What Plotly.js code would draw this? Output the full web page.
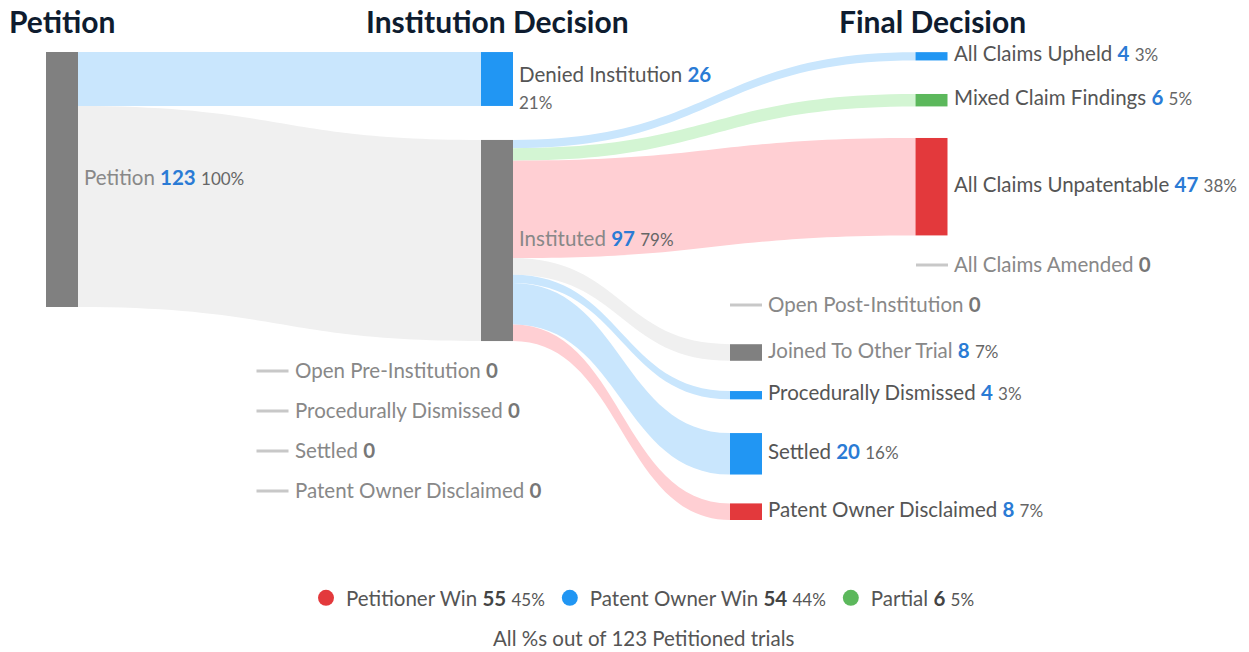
<!DOCTYPE html>
<html><head><meta charset="utf-8">
<script src="https://cdn.plot.ly/plotly-3.0.1.min.js"></script>
<style>html,body{margin:0;padding:0;background:#fff}#chart{width:1249px;height:652px}</style>
</head><body><div id="chart"></div>
<script>
// ---------------- data ----------------
const nodeNames = ['Petition', 'Denied Institution', 'Instituted', 'All Claims Upheld',
  'Mixed Claim Findings', 'All Claims Unpatentable', 'Joined To Other Trial',
  'Procedurally Dismissed', 'Settled', 'Patent Owner Disclaimed'];
const nodeOutcome = ['none', 'owner', 'none', 'owner', 'partial', 'petitioner', 'none', 'owner', 'owner', 'petitioner'];
const linkSource = [0, 0, 2, 2, 2, 2, 2, 2, 2];
const linkTarget = [1, 2, 3, 4, 5, 6, 7, 8, 9];
const linkValue  = [26, 97, 4, 6, 47, 8, 4, 20, 8];
const zeroNames  = ['Open Pre-Institution', 'Procedurally Dismissed', 'Settled', 'Patent Owner Disclaimed', 'All Claims Amended', 'Open Post-Institution'];
const zeroValues = [0, 0, 0, 0, 0, 0];
const columnTitles = ['Petition', 'Institution Decision', 'Final Decision'];
const outcomeKeys  = ['petitioner', 'owner', 'partial'];
const outcomeNames = ['Petitioner Win', 'Patent Owner Win', 'Partial'];

// ---------------- layout / style config ----------------
const W = 1249, H = 652;
const sankeyTopPx = 48, sankeyHeightPx = 255;
const nodeThickness = 32;
const nodeCxPx = [62, 497, 497, 931.5, 931.5, 931.5, 746, 746, 746, 746];
const nodeCyPx = [179.5, 79, 240.5, 56.3, 100.2, 186.7, 352.5, 395.2, 453.8, 511.7];
const wrapPct  = [false, true, false, false, false, false, false, false, false, false];
const zeroCxPx = [272.5, 272.5, 272.5, 272.5, 932, 746];
const zeroCyPx = [371, 411, 451, 491, 265, 305];
const titleCxPx = [62, 497, 932], titleCyPx = 21;
const FONT = 'Lato, "Open Sans", sans-serif';
const FS = 20.5, PS = 17;
const nodeColor = {none: '#808080', owner: '#2196f3', partial: '#5cb85c', petitioner: '#e3393c'};
const linkColor = {none: '#f0f0f0', owner: '#c9e6fd', partial: '#d3f5d3', petitioner: '#ffcfd3'};
const numColor = '#2a7bd5';

// ---------------- derived ----------------
const nodeValue = nodeNames.map((_, i) => {
  let inV = 0, outV = 0;
  linkValue.forEach((v, k) => { if (linkTarget[k] === i) inV += v; if (linkSource[k] === i) outV += v; });
  return Math.max(inV, outV);
});
const total = nodeValue[0];
const pct = v => Math.round(v / total * 100) + '%';

const domY = [1 - (sankeyTopPx + sankeyHeightPx) / H, 1 - sankeyTopPx / H];
const domH = domY[1] - domY[0];
const nodeX = nodeCxPx.map(p => p / W);
const nodeY = nodeCyPx.map(p => (p - sankeyTopPx) / sankeyHeightPx);
const zeroX = zeroCxPx.map(p => p / W);
const zeroY = zeroCyPx.map(p => (p - sankeyTopPx) / sankeyHeightPx);
const halfT = nodeThickness / 2 / W;

const traces = [];
traces.push({
  type: 'sankey', arrangement: 'fixed', hoverinfo: 'none',
  domain: {x: [0, 1], y: domY},
  node: {
    label: nodeNames.map(() => ''), pad: 0, thickness: nodeThickness,
    x: nodeX, y: nodeY,
    color: nodeOutcome.map(o => nodeColor[o]),
    line: {width: 0}, hoverinfo: 'none'
  },
  link: {
    source: linkSource, target: linkTarget, value: linkValue,
    color: linkTarget.map(t => linkColor[nodeOutcome[t]]), hoverinfo: 'none'
  }
});

// zero-value nodes as short dashes
const dx = [], dy = [];
zeroNames.forEach((_, i) => { dx.push(zeroX[i] - halfT, zeroX[i] + halfT, null); dy.push(zeroY[i], zeroY[i], null); });
traces.push({type: 'scatter', mode: 'lines', x: dx, y: dy, line: {color: '#c8c8c8', width: 3},
  hoverinfo: 'skip', showlegend: false});

// legend entries
outcomeKeys.forEach((k, j) => {
  let v = 0;
  nodeOutcome.forEach((o, i) => { if (o === k && i !== 0) v += nodeValue[i]; });
  traces.push({type: 'scatter', mode: 'markers', x: [null], y: [null],
    marker: {color: nodeColor[k], size: 16, symbol: 'circle'},
    name: outcomeNames[j] + ' <span style="color:#444"><b>' + v + '</b></span> <span style="font-size:' + PS + 'px">' + pct(v) + '</span>',
    hoverinfo: 'skip'});
});

const annotations = [];
nodeNames.forEach((n, i) => {
  const nameCol = nodeOutcome[i] === 'none' ? '#888' : '#555';
  const p = '<span style="font-size:' + PS + 'px;color:#666">' + pct(nodeValue[i]) + '</span>';
  const txt = '<span style="color:' + nameCol + '">' + n + '</span> <span style="color:' + numColor + '"><b>' + nodeValue[i] + '</b></span>' + (wrapPct[i] ? '<br>' : ' ') + p;
  annotations.push({xref: 'x', yref: 'y', x: nodeX[i] + halfT, y: nodeY[i], xanchor: 'left', yanchor: 'middle',
    xshift: 4, yshift: wrapPct[i] ? -8 : 3, align: 'left', showarrow: false, text: txt,
    font: {family: FONT, size: FS, color: '#555'}});
});
zeroNames.forEach((n, i) => {
  annotations.push({xref: 'x', yref: 'y', x: zeroX[i] + halfT, y: zeroY[i], xanchor: 'left', yanchor: 'middle',
    xshift: 4, yshift: 1, align: 'left', showarrow: false,
    text: n + ' <span style="color:#777"><b>' + zeroValues[i] + '</b></span>',
    font: {family: FONT, size: FS, color: '#888'}});
});
columnTitles.forEach((t, i) => {
  annotations.push({xref: 'paper', yref: 'paper', x: titleCxPx[i] / W, y: 1 - titleCyPx / H,
    xanchor: 'center', yanchor: 'middle', showarrow: false, text: '<b>' + t + '</b>',
    font: {family: FONT, size: 30, color: '#0e1c2f'}});
});
annotations.push({xref: 'paper', yref: 'paper', x: 643 / W, y: 1 - 638 / H, xanchor: 'center', yanchor: 'middle',
  showarrow: false, text: 'All %s out of ' + total + ' Petitioned trials', font: {family: FONT, size: FS, color: '#555'}});

const layout = {
  width: W, height: H, margin: {l: 0, r: 0, t: 0, b: 0},
  paper_bgcolor: '#fff', plot_bgcolor: 'rgba(0,0,0,0)',
  font: {family: FONT, size: FS, color: '#555'},
  xaxis: {domain: [0, 1], range: [0, 1], visible: false, fixedrange: true},
  yaxis: {domain: [0, 1], range: [domY[1] / domH, (domY[1] - 1) / domH], visible: false, fixedrange: true},
  showlegend: true,
  legend: {orientation: 'h', x: 643 / W, xanchor: 'center', y: 1 - 598 / H, yanchor: 'middle',
    font: {family: FONT, size: FS, color: '#555'}, bgcolor: 'rgba(0,0,0,0)', itemclick: false, itemdoubleclick: false},
  annotations: annotations
};
Plotly.newPlot('chart', traces, layout, {displayModeBar: false, staticPlot: true});
</script></body></html>
